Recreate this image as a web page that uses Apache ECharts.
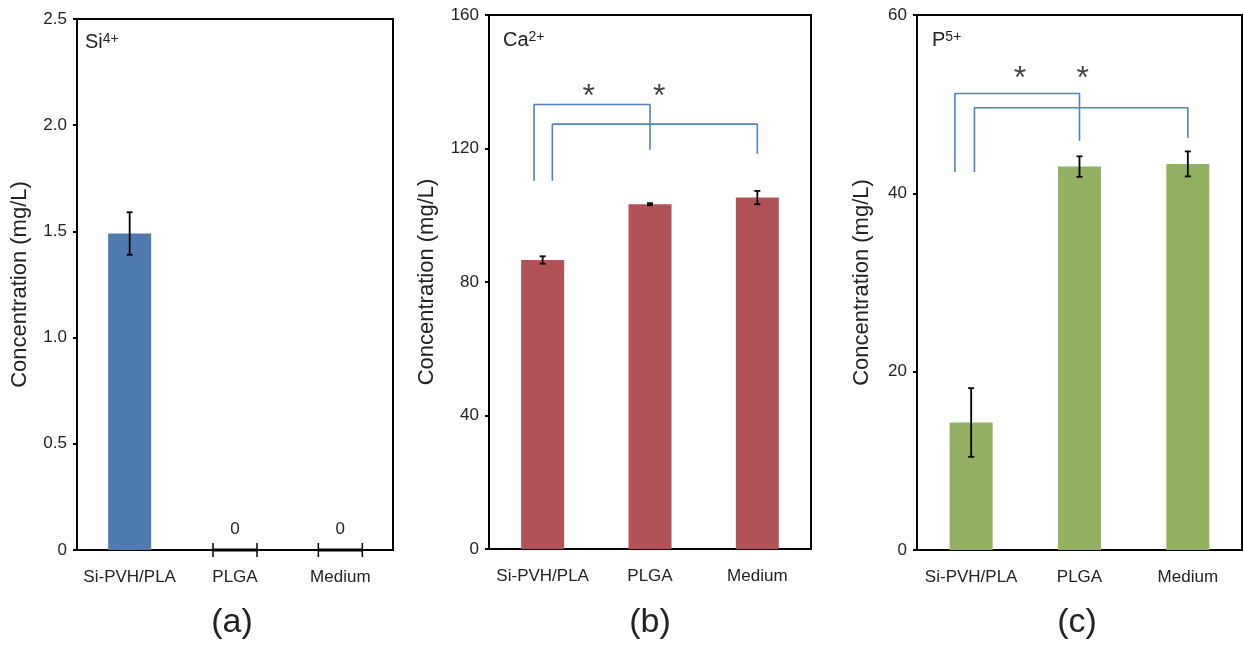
<!DOCTYPE html>
<html><head><meta charset="utf-8">
<script src="https://cdn.jsdelivr.net/npm/echarts@6/dist/echarts.min.js"></script>
<style>html,body{margin:0;padding:0;background:#fff}#c{width:1244px;height:648px}</style>
</head><body><div id="c"></div>
<script>
// ---- data ----
const categories = ['Si-PVH/PLA', 'PLGA', 'Medium'];
const siValues = [1.49, 0, 0];
const siErrors = [0.10, 0, 0];
const caValues = [86.6, 103.3, 105.3];
const caErrors = [1.1, 0.3, 2.0];
const pValues = [14.3, 43.0, 43.3];
const pErrors = [3.85, 1.15, 1.4];
// axis ranges [min, max, interval]
const siAxis = [0, 2.5, 0.5];
const caAxis = [0, 160, 40];
const pAxis = [0, 60, 20];
// significance brackets (x in category units, y in mg/L)
const caBracket1 = [[-0.08, 110.3], [-0.08, 133.2], [1.0, 133.2], [1.0, 119.6]];
const caBracket2 = [[0.09, 110.3], [0.09, 127.3], [2.0, 127.3], [2.0, 118.4]];
const caStars = [[0.43, 135.5], [1.085, 135.5]];
const pBracket1 = [[-0.15, 42.4], [-0.15, 51.2], [1.0, 51.2], [1.0, 45.9]];
const pBracket2 = [[0.03, 42.4], [0.03, 49.6], [2.0, 49.6], [2.0, 46.2]];
const pStars = [[0.45, 52.8], [1.03, 52.8]];
const panelLabels = ['(a)', '(b)', '(c)'];

// ---- styling ----
const FONT = 'Liberation Sans, Arial, sans-serif';
const colors = ['#4f7bb1', '#b05256', '#92b062'];
const bracketColor = '#4f81bd';
const grids = [
  { left: 77, top: 19, width: 316, height: 531 },
  { left: 489, top: 15, width: 322, height: 534 },
  { left: 917, top: 15, width: 325, height: 535 }
];
const nameGaps = [46, 51, 44];
const axes = [siAxis, caAxis, pAxis];
const values = [siValues, caValues, pValues];
const errors = [siErrors, caErrors, pErrors];

const xAxis = [], yAxis = [], series = [];
grids.forEach((g, i) => {
  xAxis.push({
    type: 'category', gridIndex: i, data: categories,
    axisLine: { show: true, onZero: false, lineStyle: { color: '#000', width: 2 } },
    axisTick: { show: false },
    axisLabel: { interval: 0, margin: 19, fontSize: 17, color: '#222', fontFamily: FONT }
  });
  xAxis.push({ type: 'value', gridIndex: i, min: -0.5, max: 2.5, show: false,
    axisLine: { show: false, onZero: false } });
  yAxis.push({
    type: 'value', gridIndex: i, min: axes[i][0], max: axes[i][1], interval: axes[i][2],
    name: 'Concentration (mg/L)', nameLocation: 'middle', nameGap: nameGaps[i],
    nameTextStyle: { fontSize: 22, color: '#222', fontFamily: FONT },
    splitLine: { show: false },
    axisLine: { show: true, onZero: false, lineStyle: { color: '#000', width: 2 } },
    axisTick: { show: true, length: 4, lineStyle: { color: '#000', width: 2 } },
    axisLabel: {
      margin: 10, fontSize: 17, color: '#222', fontFamily: FONT,
      formatter: i === 0 ? (v => v === 0 ? '0' : v.toFixed(1)) : (v => String(v))
    }
  });
  series.push({
    type: 'bar', xAxisIndex: 2 * i, yAxisIndex: i, data: values[i], barWidth: 43,
    itemStyle: { color: colors[i] },
    label: {
      show: true, position: 'top', distance: 12, fontSize: 17, color: '#222', fontFamily: FONT,
      formatter: p => p.value === 0 ? '0' : ''
    }
  });
  const errData = [];
  values[i].forEach((v, k) => { if (errors[i][k] > 0) errData.push([k, v - errors[i][k], v + errors[i][k]]); });
  series.push({
    type: 'custom', xAxisIndex: 2 * i, yAxisIndex: i, data: errData, z: 5,
    renderItem: (params, api) => {
      const x = api.value(0);
      const top = api.coord([x, api.value(2)]);
      const bot = api.coord([x, api.value(1)]);
      const c = 3, st = { stroke: '#000', lineWidth: 1.8 };
      return { type: 'group', children: [
        { type: 'line', shape: { x1: top[0], y1: top[1], x2: bot[0], y2: bot[1] }, style: st },
        { type: 'line', shape: { x1: top[0] - c, y1: top[1], x2: top[0] + c, y2: top[1] }, style: st },
        { type: 'line', shape: { x1: bot[0] - c, y1: bot[1], x2: bot[0] + c, y2: bot[1] }, style: st }
      ]};
    }
  });
  // zero-height bar outlines
  const zeroData = [];
  values[i].forEach((v, k) => { if (v === 0) zeroData.push([k, 0]); });
  if (zeroData.length) {
    series.push({
      type: 'custom', xAxisIndex: 2 * i, yAxisIndex: i, data: zeroData, z: 6,
      renderItem: (params, api) => {
        const p = api.coord([api.value(0), api.value(1)]);
        const h = 22, st = { stroke: '#000', lineWidth: 1.5 };
        return { type: 'group', children: [
          { type: 'line', shape: { x1: p[0] - h, y1: p[1], x2: p[0] + h, y2: p[1] }, style: { stroke: '#000', lineWidth: 3 } },
          { type: 'line', shape: { x1: p[0] - h, y1: p[1] - 7, x2: p[0] - h, y2: p[1] + 7 }, style: st },
          { type: 'line', shape: { x1: p[0] + h, y1: p[1] - 7, x2: p[0] + h, y2: p[1] + 7 }, style: st }
        ]};
      }
    });
  }
});

function bracket(idx, data) {
  return { type: 'line', xAxisIndex: 2 * idx + 1, yAxisIndex: idx, data: data, symbol: 'none',
    lineStyle: { color: bracketColor, width: 1.6 }, z: 4, silent: true };
}
function stars(idx, data) {
  return { type: 'scatter', xAxisIndex: 2 * idx + 1, yAxisIndex: idx, data: data, symbolSize: 0,
    label: { show: true, position: 'inside', formatter: '*', fontSize: 32, color: '#111', fontFamily: FONT } };
}
series.push(bracket(1, caBracket1), bracket(1, caBracket2), stars(1, caStars));
series.push(bracket(2, pBracket1), bracket(2, pBracket2), stars(2, pStars));

const ionLabels = [
  { text: '{b|Si}{s|4+}', x: 85, y: 42 },
  { text: '{b|Ca}{s|2+}', x: 503, y: 40 },
  { text: '{b|P}{s|5+}', x: 932, y: 40 }
];
const panelX = [232, 650, 1077];
const graphic = [];
ionLabels.forEach(l => graphic.push({
  type: 'text', x: l.x, y: l.y,
  style: { text: l.text, verticalAlign: 'middle', align: 'left',
    rich: { b: { fontSize: 20, fontFamily: FONT, fill: '#222' },
            s: { fontSize: 14, fontFamily: FONT, fill: '#222', verticalAlign: 'top' } } }
}));
panelLabels.forEach((t, i) => graphic.push({
  type: 'text', x: panelX[i], y: 623,
  style: { text: t, fontSize: 34, fontFamily: FONT, fill: '#222', align: 'center', verticalAlign: 'middle' }
}));

const chart = echarts.init(document.getElementById('c'));
chart.setOption({
  animation: false,
  backgroundColor: '#fff',
  grid: grids.map(g => Object.assign({ show: true, borderColor: '#000', borderWidth: 2, backgroundColor: 'transparent' }, g)),
  xAxis, yAxis, series, graphic
});
</script></body></html>
